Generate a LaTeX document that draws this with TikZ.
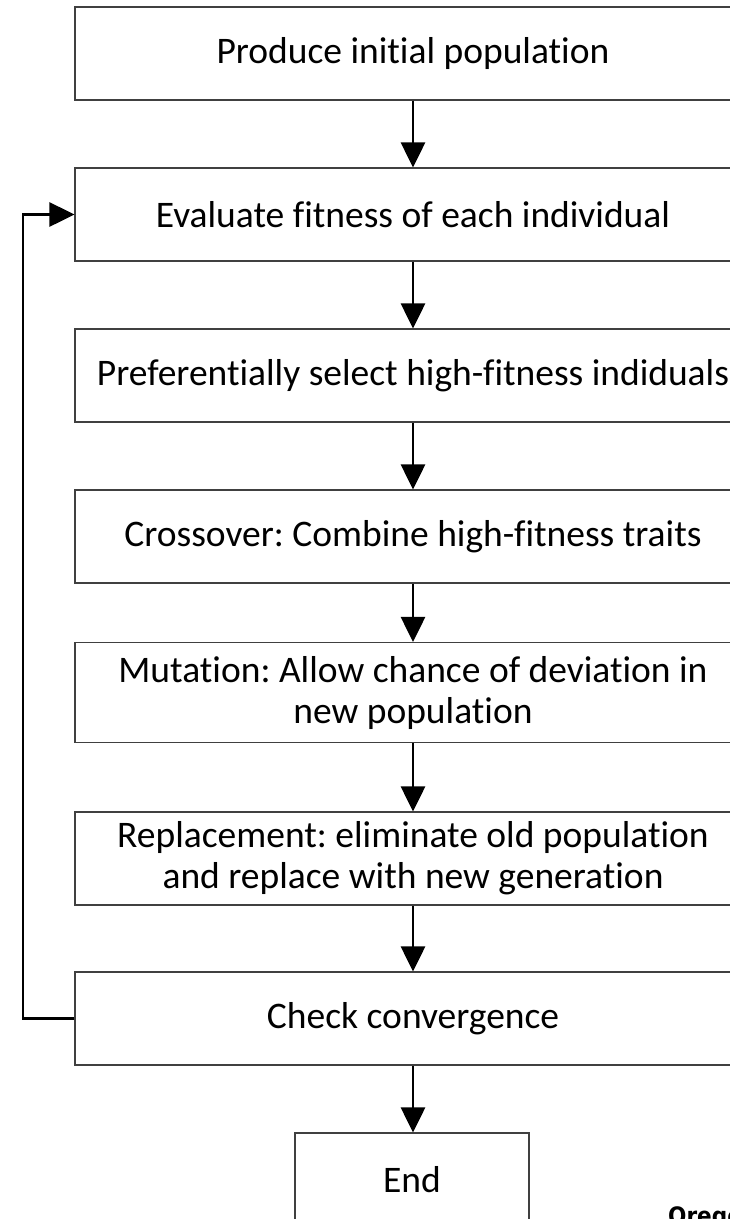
\documentclass[tikz,border=0pt]{standalone}
\usepackage{fontspec}
\setmainfont{Carlito}[Ligatures={NoCommon}]
\newfontfamily\oregonfont{DejaVu Sans Condensed}
\usetikzlibrary{arrows.meta}
\frenchspacing
\begin{document}
\begin{tikzpicture}[x=1pt,y=-1pt,
  procbox/.style={draw=black!75, line width=1.1pt, minimum width=676pt, minimum height=93pt, inner sep=0pt, align=center, font=\fontsize{37.5}{41}\selectfont},
  endbox/.style={draw=black!75, line width=1.1pt, minimum width=234pt, minimum height=93pt, inner sep=0pt, font=\fontsize{37.5}{41}\selectfont},
  flow/.style={line width=2.8pt, -{Triangle[width=24pt,length=25pt]}}
]
\useasboundingbox (0,0) rectangle (730,1219);
\clip (0,0) rectangle (730,1219);
\node[procbox] (b1) at (413,53.5) {Produce initial population};
\node[procbox] (b2) at (413,214.5) {Evaluate fitness of each individual};
\node[procbox] (b3) at (413,375.5) {Preferentially select high-fitness indiduals};
\node[procbox] (b4) at (413,536.5) {Crossover: Combine high-fitness traits};
\node[procbox, minimum height=100pt] (b5) at (413,692.5) {Mutation: Allow chance of deviation in\\new population};
\node[procbox] (b6) at (413,858.5) {Replacement: eliminate old population\\and replace with new generation};
\node[procbox] (b7) at (413,1018.5) {Check convergence};
\node[endbox] (e) at (412,1179.5) {End};
\draw[flow] (b1.south -| 413,0) -- (b2.north -| 413,0);
\draw[flow] (b2.south -| 413,0) -- (b3.north -| 413,0);
\draw[flow] (b3.south -| 413,0) -- (b4.north -| 413,0);
\draw[flow] (b4.south -| 413,0) -- (b5.north -| 413,0);
\draw[flow] (b5.south -| 413,0) -- (b6.north -| 413,0);
\draw[flow] (b6.south -| 413,0) -- (b7.north -| 413,0);
\draw[flow] (b7.south -| 413,0) -- (e.north -| 413,0);
\coordinate (lp) at (23,1018.5);
\draw[flow] (b7.west) -- (lp) |- (b2.west);
\node[anchor=base west, inner sep=0pt, font=\oregonfont\bfseries\fontsize{24}{28}\selectfont] (org) at (668,1224) {Oregon};
\end{tikzpicture}
\end{document}
